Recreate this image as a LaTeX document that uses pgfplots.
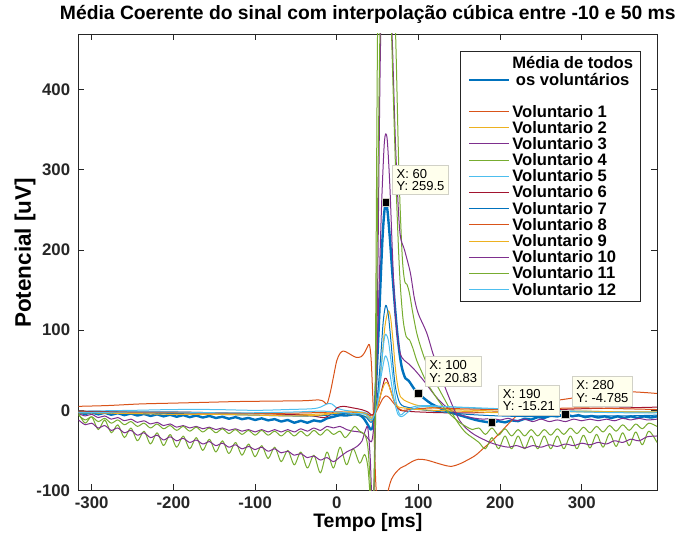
\documentclass[border=0pt]{standalone}
\usepackage{pgfplots}
\pgfplotsset{compat=1.18}
\usepackage{fontspec}
\setmainfont{Liberation Sans}

\definecolor{mblue}{rgb}{0,0.447,0.741}
\definecolor{morange}{rgb}{0.85,0.325,0.098}
\definecolor{myellow}{rgb}{0.929,0.694,0.125}
\definecolor{mpurple}{rgb}{0.494,0.184,0.556}
\definecolor{mgreen}{rgb}{0.466,0.674,0.188}
\definecolor{mcyan}{rgb}{0.301,0.745,0.933}
\definecolor{mred}{rgb}{0.635,0.078,0.184}
\definecolor{axisgray}{rgb}{0.15,0.15,0.15}
\definecolor{tipfill}{rgb}{1,1,0.93}
\definecolor{tipedge}{rgb}{0.82,0.82,0.78}

\newcommand{\lstrut}{\rule[-4.85pt]{0pt}{16.15pt}}
\newcommand{\vol}[1]{Voluntario #1}

\begin{document}
\begin{tikzpicture}
\begin{axis}[
  scale only axis, width=579pt, height=456.5pt,
  xmin=-316.4, xmax=392.4, ymin=-100, ymax=469.5,
  xtick={-300,-200,...,300}, ytick={-100,0,...,400},
  tick align=inside, major tick length=6pt,
  axis line style={draw=axisgray, line width=0.9pt},
  every tick/.style={draw=axisgray, line width=0.9pt},
  /pgf/number format/assume math mode=true,
  tick label style={font=\bfseries\fontsize{16.8}{16.8}\selectfont, text=axisgray, inner sep=0pt},
  xticklabel style={anchor=north, yshift=-6.5pt},
  yticklabel style={anchor=east, xshift=-8pt},
  title={Média Coerente do sinal com interpolação cúbica entre -10 e 50 ms},
  title style={at={(axis description cs:0.5,1.0197)}, anchor=base, inner sep=0pt,
    font=\bfseries\fontsize{19.3}{19.3}\selectfont},
  xlabel={Tempo [ms]}, ylabel={Potencial [uV]},
  xlabel style={at={(axis description cs:0.5,-0.0811)}, anchor=base, inner sep=0pt,
    font=\bfseries\fontsize{19.5}{19.5}\selectfont},
  ylabel style={at={(axis description cs:-0.0817,0.5205)}, anchor=base, inner sep=0pt,
    font=\bfseries\fontsize{22.5}{22.5}\selectfont},
  legend style={at={(rel axis cs:0.971,0.962)}, anchor=north east,
    draw=axisgray, line width=0.8pt, fill=white,
    font=\bfseries\fontsize{16.6}{16.15}\selectfont,
    inner xsep=7pt, inner ysep=4.5pt, row sep=2.65pt, column sep=2pt,
    nodes={inner sep=0pt}, cells={anchor=base west}},
  legend image code/.code={\draw[#1] (0pt,5.5pt) -- (40pt,5.5pt);},
  every axis plot/.append style={smooth, line join=round},
]

% coherent mean over all volunteers
\addplot[mblue, line width=2.4pt] coordinates {
(-316,-2) (-308,-4.5) (-300,-2.5) (-292,-5) (-284,-3) (-276,-5.5) (-268,-3.5) (-260,-6)
(-252,-4) (-244,-6.5) (-236,-4.5) (-228,-7) (-220,-5) (-212,-7.5) (-204,-5.5) (-196,-8)
(-188,-6) (-180,-8.5) (-172,-6.5) (-164,-9) (-156,-7) (-148,-9.5) (-140,-8) (-132,-10.5)
(-124,-8.5) (-116,-11) (-108,-9.5) (-100,-12) (-92,-10) (-84,-12.5) (-76,-11) (-68,-14)
(-60,-12) (-52,-15.5) (-44,-13) (-36,-15.5) (-28,-12.5) (-20,-14) (-12,-10) (-4,-8)
(4,-6) (12,-6.5) (20,-5) (28,-6) (33,-10) (38,-18) (42,-24) (45,-15) (48,30) (51,95)
(54,170) (56,215) (58,245) (60,259.5) (62,250) (65,215) (68,172) (71,132) (74,97) (77,70)
(80,52) (84,40) (88,37) (92,31) (96,25) (100,20.83) (108,14) (116,8) (124,4) (132,0)
(140,-3) (150,-6) (160,-9) (170,-12) (180,-14) (190,-15.21) (198,-13.5) (206,-15)
(214,-12.5) (222,-13.5) (230,-10.5) (238,-11.5) (246,-8.5) (254,-9.5) (262,-6.5)
(270,-7.5) (280,-4.785) (288,-7.5) (296,-6) (304,-8.5) (312,-7) (320,-9) (328,-7.5)
(336,-9.5) (344,-7.5) (352,-9.5) (360,-7.5) (368,-9.5) (376,-7.5) (384,-9) (392,-7.5)};
\addlegendentry{\begin{tabular}[b]{@{}c@{}}Média de todos\lstrut\\os voluntários\lstrut\end{tabular}}
\addlegendimage{empty legend}
\addlegendentry{\strut}

% Voluntario 1
\addplot[morange, line width=1pt] coordinates {
(-316,5) (-280,6) (-240,8) (-200,9) (-160,10) (-120,11) (-80,11.5) (-40,12) (-22,13)
(-16,11) (-12,8) (-8,22) (-4,42) (0,62) (4,71) (8,74) (13,72) (18,69) (24,66) (30,67)
(34,72) (38,80) (40,82) (42,65) (44,20) (46,-40) (48,-95) (51,-130) (55,-140) (59,-125)
(63,-100) (67,-86) (72,-78) (78,-72) (84,-69) (92,-64) (100,-61) (110,-62) (120,-65)
(130,-68) (140,-70) (150,-67) (160,-62) (170,-56) (180,-47) (190,-38) (200,-28) (210,-17)
(220,-7) (230,0) (245,7) (260,11) (280,14) (300,17) (320,19) (340,21) (360,23) (380,22)
(392,21)};
\addlegendentry{\vol{1}}

% Voluntario 2
\addplot[myellow, line width=1pt] coordinates {
(-316,-1) (-250,-2) (-200,-2.5) (-150,-3) (-100,-4) (-60,-5) (-30,-5) (-10,-4) (10,-4)
(30,-6) (38,-9) (43,-13) (47,-5) (51,20) (55,60) (59,105) (63,124) (66,115) (69,85)
(72,50) (75,28) (78,17) (82,13) (88,10) (96,7) (105,5) (120,3) (140,1) (170,0) (200,-1)
(250,-1) (300,-2) (350,-2) (392,-3)};
\addlegendentry{\vol{2}}

% Voluntario 3
\addplot[mpurple, line width=1pt] coordinates {
(-316,-4) (-308,-7) (-300,-5) (-292,-9) (-284,-7) (-276,-11) (-268,-9) (-260,-13)
(-252,-11) (-244,-15) (-236,-13) (-228,-17) (-220,-15) (-212,-19) (-204,-17) (-196,-21)
(-188,-19) (-180,-22) (-172,-20) (-164,-23) (-156,-21) (-148,-24) (-140,-22) (-132,-25)
(-124,-23) (-116,-26) (-108,-24) (-100,-27) (-92,-24) (-84,-27) (-76,-24) (-68,-27)
(-60,-24) (-52,-27) (-44,-23) (-36,-26) (-28,-22) (-20,-25) (-12,-20) (-4,-22) (4,-20)
(12,-24) (20,-26) (28,-27) (34,-30) (39,-36) (43,-38) (46,-10) (49,60) (52,160) (55,260)
(58,330) (60,345) (62,335) (65,280) (68,200) (71,130) (74,95) (78,70) (83,62) (88,58)
(94,52) (100,45) (108,35) (116,24) (124,14) (132,6) (140,0) (150,-5) (160,-8) (170,-10)
(180,-11) (190,-10) (200,-12) (210,-10) (220,-13) (230,-11) (240,-14) (250,-11) (260,-14)
(270,-12) (280,-14) (290,-11) (300,-13) (310,-11) (320,-13) (330,-11) (340,-13) (350,-10)
(360,-12) (370,-10) (380,-12) (392,-11)};
\addlegendentry{\vol{3}}

% Voluntario 4
\addplot[mgreen, line width=1pt] coordinates {
(-316,-4) (-308,-16) (-300,-8) (-292,-24) (-284,-12) (-276,-28) (-268,-18) (-260,-34)
(-252,-22) (-244,-38) (-236,-26) (-228,-42) (-220,-28) (-212,-44) (-204,-30) (-196,-46)
(-188,-32) (-180,-48) (-172,-34) (-164,-50) (-156,-36) (-148,-52) (-140,-38) (-132,-54)
(-124,-40) (-116,-56) (-108,-42) (-100,-58) (-92,-44) (-84,-60) (-76,-46) (-68,-64)
(-60,-50) (-52,-68) (-44,-52) (-36,-72) (-28,-56) (-20,-78) (-12,-52) (-4,-72) (4,-46)
(12,-68) (20,-48) (28,-66) (34,-55) (38,-70) (41,-110) (44,-160) (47,20) (50,480) (53,650)
(56,700) (60,720) (64,680) (68,560) (72,470) (76,300) (80,195) (83,162) (86,157) (89,146)
(93,122) (98,96) (104,75) (110,58) (118,40) (126,25) (134,10) (142,-5) (150,-18) (158,-28)
(166,-34) (174,-40) (182,-48) (190,-34) (198,-48) (206,-32) (214,-48) (222,-32) (230,-48)
(238,-32) (246,-48) (254,-32) (262,-48) (270,-32) (278,-48) (286,-32) (294,-48) (302,-31)
(310,-47) (318,-30) (326,-46) (334,-29) (342,-45) (350,-28) (358,-44) (366,-27) (374,-43)
(382,-26) (392,-40)};
\addlegendentry{\vol{4}}

% Voluntario 5
\addplot[mcyan, line width=1pt] coordinates {
(-316,-1) (-250,0) (-200,1) (-150,1) (-100,0) (-60,1) (-30,2) (-20,4) (-12,8) (-6,8)
(0,3) (10,0) (20,-1) (30,-2) (38,-4) (43,-10) (47,-2) (51,20) (55,60) (58,88) (60,95)
(63,88) (66,65) (69,38) (72,15) (75,0) (78,-6) (82,-3) (88,2) (96,5) (110,6) (130,5)
(160,3) (200,1) (250,0) (300,-1) (350,-2) (392,-2)};
\addlegendentry{\vol{5}}

% Voluntario 6
\addplot[mred, line width=1pt] coordinates {
(-316,-1) (-250,-2) (-200,-2) (-150,-3) (-100,-4) (-60,-5) (-30,-7) (-15,-9) (-5,-3)
(0,3) (8,5) (20,3) (30,1) (38,-2) (43,-6) (47,-2) (51,8) (55,25) (59,40) (62,37) (66,25)
(70,12) (74,4) (78,0) (85,-1) (100,-2) (130,-3) (170,-3) (200,-2) (250,0) (300,2) (350,3)
(392,4)};
\addlegendentry{\vol{6}}

% Voluntario 7
\addplot[mblue, line width=1pt] coordinates {
(-316,-2) (-250,-3) (-200,-4) (-150,-5) (-100,-6) (-60,-7) (-30,-7) (-10,-6) (10,-4)
(25,-5) (35,-8) (42,-15) (46,-8) (50,20) (54,70) (57,112) (60,131) (63,120) (66,90)
(69,55) (72,28) (76,12) (80,6) (86,4) (95,2) (110,0) (130,-2) (160,-5) (200,-7) (250,-8)
(300,-7) (350,-7) (392,-6)};
\addlegendentry{\vol{7}}

% Voluntario 8
\addplot[morange, line width=1pt] coordinates {
(-316,-2) (-200,-3) (-100,-4) (-30,-3) (0,-2) (30,-3) (40,-6) (44,-7) (48,-2) (52,6)
(56,14) (60,18) (64,16) (68,11) (72,6) (76,2) (80,0) (90,1) (100,2) (120,3) (150,2)
(200,1) (250,2) (300,3) (350,2) (392,1)};
\addlegendentry{\vol{8}}

% Voluntario 9
\addplot[myellow, line width=1pt] coordinates {
(-316,-3) (-250,-4) (-200,-5) (-150,-5) (-100,-6) (-50,-7) (-20,-6) (0,-3) (20,-2)
(35,-4) (42,-10) (46,-6) (50,5) (54,20) (58,32) (61,35) (64,30) (68,18) (72,8) (76,4)
(82,3) (90,2) (100,1) (120,0) (150,-1) (200,-3) (250,-2) (300,-1) (350,-2) (392,-2)};
\addlegendentry{\vol{9}}

% Voluntario 10
\addplot[mpurple, line width=1pt] coordinates {
(-316,-12) (-308,-18) (-300,-16) (-292,-22) (-284,-19) (-276,-25) (-268,-22) (-260,-28)
(-252,-25) (-244,-31) (-236,-28) (-228,-34) (-220,-31) (-212,-37) (-204,-33) (-196,-38)
(-188,-35) (-180,-40) (-172,-37) (-164,-42) (-156,-39) (-148,-44) (-140,-41) (-132,-46)
(-124,-43) (-116,-48) (-108,-45) (-100,-49) (-92,-46) (-84,-51) (-76,-48) (-68,-53)
(-60,-51) (-52,-56) (-44,-54) (-36,-59) (-28,-57) (-20,-62) (-12,-59) (-4,-64) (4,-58)
(12,-52) (20,-48) (26,-44) (31,-38) (35,-25) (38,-22) (41,-60) (44,-130) (47,-40) (50,150)
(53,420) (56,560) (60,590) (64,560) (68,460) (72,330) (77,225) (83,200) (90,172) (95,140)
(100,120) (110,97) (118,70) (126,47) (134,25) (142,5) (150,-12) (158,-22) (168,-30)
(179,-36) (190,-41) (200,-44) (210,-46) (220,-44) (230,-47) (240,-44) (250,-46) (260,-43)
(270,-45) (280,-42) (290,-44) (300,-41) (310,-43) (320,-40) (330,-42) (340,-38) (350,-40)
(360,-36) (370,-38) (380,-33) (392,-32)};
\addlegendentry{\vol{10}}

% Voluntario 11
\addplot[mgreen, line width=1pt] coordinates {
(-316,-6) (-308,-12) (-300,-8) (-292,-14) (-284,-10) (-276,-16) (-268,-12) (-260,-18)
(-252,-14) (-244,-20) (-236,-16) (-228,-22) (-220,-17) (-212,-23) (-204,-19) (-196,-25)
(-188,-20) (-180,-26) (-172,-21) (-164,-27) (-156,-22) (-148,-28) (-140,-23) (-132,-29)
(-124,-24) (-116,-30) (-108,-25) (-100,-31) (-92,-25) (-84,-31) (-76,-26) (-68,-32)
(-60,-26) (-52,-32) (-44,-26) (-36,-32) (-28,-25) (-20,-31) (-12,-24) (-4,-30) (4,-26)
(10,-34) (16,-28) (22,-20) (28,-26) (34,-30) (38,-45) (41,-90) (44,-140) (47,-30) (50,250)
(53,480) (57,640) (61,620) (65,540) (69,400) (73,270) (77,170) (81,115) (85,92) (89,88)
(93,78) (98,62) (104,48) (110,35) (118,22) (126,10) (134,0) (142,-8) (150,-15) (158,-20)
(166,-24) (174,-22) (182,-30) (190,-22) (198,-31) (206,-23) (214,-32) (222,-24) (230,-32)
(238,-24) (246,-32) (254,-24) (262,-31) (270,-23) (278,-30) (286,-22) (294,-29) (302,-21)
(310,-28) (318,-20) (326,-27) (334,-19) (342,-26) (350,-18) (358,-25) (366,-17) (374,-23)
(382,-16) (392,-20)};
\addlegendentry{\vol{11}}

% Voluntario 12
\addplot[mcyan, line width=1pt] coordinates {
(-316,-3) (-250,-2) (-200,-2) (-150,-3) (-100,-3) (-50,-2) (-20,-1) (0,-2) (20,-4)
(35,-5) (42,-12) (46,-6) (50,10) (54,40) (58,63) (60,68) (63,60) (66,40) (69,20) (72,5)
(75,-5) (79,-8) (84,-5) (90,0) (100,4) (120,5) (150,4) (200,2) (250,0) (300,-2) (350,-3)
(392,-3)};
\addlegendentry{\vol{12}}

% data tips on the mean curve
\addplot[only marks, mark=square*, forget plot, mark size=3.8pt,
  mark options={fill=black, draw=tipedge, line width=0.8pt}] coordinates {
(60,259.5) (100,20.83) (190,-15.21) (280,-4.785)};

\begin{scope}[every node/.style={draw=tipedge, fill=tipfill, line width=0.9pt,
    anchor=south west, align=left, inner xsep=4pt, inner ysep=4pt,
    font=\fontsize{13}{12.7}\selectfont, xshift=6.5pt, yshift=7pt}]
\node at (axis cs:60,259.5) {X: 60\\Y: 259.5};
\node at (axis cs:100,20.83) {X: 100\\Y: 20.83};
\node at (axis cs:190,-15.21) {X: 190\\Y: -15.21};
\node at (axis cs:280,-4.785) {X: 280\\Y: -4.785};
\end{scope}
\end{axis}
\pgfresetboundingbox
\path ([shift={(-78.3pt,-44.5pt)}]current axis.south west)
  rectangle ([shift={(23.7pt,34pt)}]current axis.north east);
\end{tikzpicture}
\end{document}
